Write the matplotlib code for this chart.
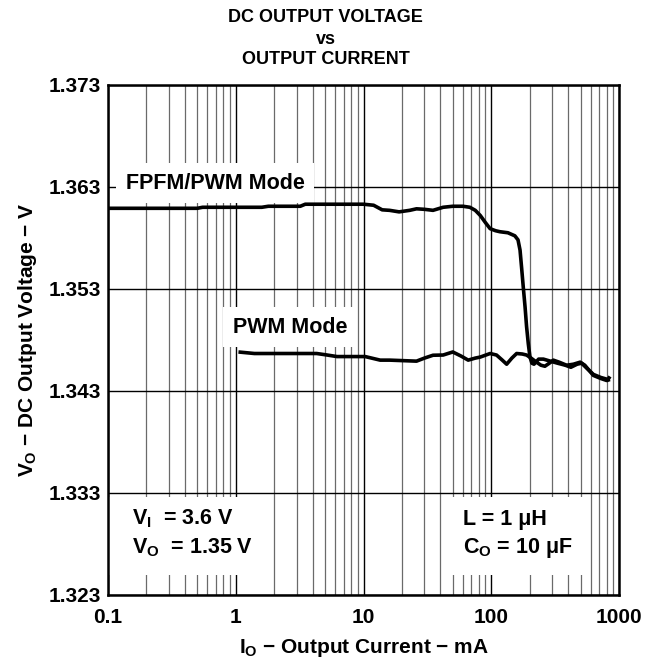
import matplotlib
matplotlib.use("Agg")
import matplotlib.pyplot as plt
from matplotlib.ticker import FixedLocator, NullFormatter, LogLocator
from matplotlib.patches import Rectangle

plt.rcParams['font.family'] = ['Liberation Sans', 'DejaVu Sans']
plt.rcParams['font.weight'] = 'bold'
plt.rcParams['mathtext.fontset'] = 'custom'
plt.rcParams['mathtext.rm'] = 'Liberation Sans:bold'
plt.rcParams['mathtext.it'] = 'Liberation Sans:bold'
plt.rcParams['mathtext.bf'] = 'Liberation Sans:bold'

# ---- data (mA, V) ----
fpfm_current = [0.1, 0.3, 0.5, 0.55, 1.6, 1.8, 3.2, 3.5, 10, 12, 14, 16, 19, 23, 26,
                30, 35, 42, 50, 60, 68, 75, 82, 90, 98, 108, 117, 135, 153, 162,
                168, 173, 178, 184, 189, 195, 201, 208, 216, 235, 256, 290, 330,
                380, 420, 470, 510, 560, 630, 720, 820, 850]
fpfm_voltage = [1.3609, 1.3609, 1.3609, 1.3610, 1.3610, 1.3611, 1.3611, 1.3613, 1.3613,
                1.3612, 1.36075, 1.3607, 1.36055, 1.3607, 1.36085, 1.3608, 1.3607,
                1.3610, 1.3611, 1.3611, 1.3610, 1.3607, 1.3602, 1.3595, 1.3589,
                1.3587, 1.3586, 1.3585, 1.3582, 1.3578, 1.3568, 1.3550, 1.3532,
                1.3512, 1.3493, 1.3476, 1.3463, 1.3457, 1.3456, 1.3461, 1.3461,
                1.3459, 1.3457, 1.3455, 1.3453, 1.3456, 1.3457, 1.3452, 1.3446,
                1.3443, 1.3441, 1.3444]

pwm_current = [1.05, 1.4, 4.3, 5.2, 6.2, 10.3, 13.5, 16, 26, 30, 35, 42, 50, 58, 66,
               75, 82, 98, 110, 122, 132, 145, 158, 175, 189, 205, 226, 245, 263,
               285, 306, 340, 389, 440, 496, 540, 630, 720, 802, 850]
pwm_voltage = [1.3468, 1.34665, 1.34665, 1.3465, 1.34635, 1.34635, 1.3460, 1.3460,
               1.3459, 1.3462, 1.34648, 1.3465, 1.3468, 1.3464, 1.3460, 1.3462,
               1.3463, 1.34665, 1.3465, 1.3460, 1.3456, 1.3462, 1.34665, 1.3466,
               1.3465, 1.3462, 1.3458, 1.3455, 1.3454, 1.3457, 1.3460, 1.3458,
               1.3455, 1.3456, 1.3458, 1.3455, 1.3445, 1.3442, 1.3440, 1.3441]

x_ticks = [0.1, 1, 10, 100, 1000]
x_tick_labels = ['0.1', '1', '10', '100', '1000']
y_ticks = [1.323, 1.333, 1.343, 1.353, 1.363, 1.373]
y_tick_labels = ['1.323', '1.333', '1.343', '1.353', '1.363', '1.373']

fig = plt.figure(figsize=(6.51, 6.66), dpi=100)
ax = fig.add_axes([108/651, 1-594.5/666, 511/651, 509.5/666])
ax.set_xscale('log')
ax.set_xlim(0.1, 1000)
ax.set_ylim(1.323, 1.373)

ax.xaxis.set_major_locator(FixedLocator(x_ticks))
ax.set_xticklabels(x_tick_labels)
ax.xaxis.set_minor_locator(LogLocator(base=10, subs=[2, 3, 4, 5, 6, 7, 8, 9]))
ax.xaxis.set_minor_formatter(NullFormatter())
ax.set_yticks(y_ticks)
ax.set_yticklabels(y_tick_labels)
ax.tick_params(which='both', length=0, labelsize=15)
ax.tick_params(axis='x', pad=10)
ax.tick_params(axis='y', pad=5)

ax.grid(True, which='major', color='black', lw=1.0, zorder=1)
ax.grid(True, which='minor', axis='x', color='#6a6a6a', lw=0.9, zorder=1)
ax.set_axisbelow(True)
for s in ax.spines.values():
    s.set_linewidth(1.8)
    s.set_zorder(6)

ax.plot(fpfm_current, fpfm_voltage, color='black', lw=2.6, zorder=4,
        solid_joinstyle='round', solid_capstyle='butt')
ax.plot(pwm_current, pwm_voltage, color='black', lw=2.6, zorder=4,
        solid_joinstyle='round', solid_capstyle='butt')

wbox = dict(boxstyle='square,pad=0.45', fc='white', ec='none')
ax.text(0.138, 1.36337, 'FPFM/PWM Mode', fontsize=15.5, fontweight='bold',
        ha='left', va='center', bbox=wbox, zorder=3)
ax.text(0.95, 1.34923, 'PWM Mode', fontsize=15.5, fontweight='bold',
        ha='left', va='center', bbox=wbox, zorder=3)

# white backgrounds for the parameter boxes
ax.add_patch(Rectangle((0.0, 0.038), 0.288, 0.153, transform=ax.transAxes,
                       fc='white', ec='none', zorder=2))
ax.add_patch(Rectangle((0.663, 0.038), 0.274, 0.153, transform=ax.transAxes,
                       fc='white', ec='none', zorder=2))

ax.text(0.154, 1.33047, r'$V_I$  = 3.6 V', fontsize=15.5, fontweight='bold',
        ha='left', va='center', zorder=3)
ax.text(0.154, 1.32755, r'$V_O$  = 1.35 V', fontsize=15.5, fontweight='bold',
        ha='left', va='center', zorder=3)
ax.text(60, 1.3304, 'L = 1 μH', fontsize=15.5, fontweight='bold',
        ha='left', va='center', zorder=3)
ax.text(60, 1.32755, r'$C_O$ = 10 μF', fontsize=15.5, fontweight='bold',
        ha='left', va='center', zorder=3)

ax.set_xlabel(r'$I_O$ − Output Current − mA', fontsize=15, fontweight='bold')
ax.set_ylabel(r'$V_O$ − DC Output Voltage − V', fontsize=15, fontweight='bold')
ax.xaxis.set_label_coords(0.5, -0.083)
ax.yaxis.label.set_va('center')
ax.yaxis.set_label_coords(-0.158, 0.5)

fig.text(0.5, 1-18/666, 'DC OUTPUT VOLTAGE', fontsize=13, fontweight='bold',
         ha='center', va='center')
fig.text(0.5, 1-40/666, 'vs', fontsize=13, fontweight='bold',
         ha='center', va='center')
fig.text(0.5, 1-60/666, 'OUTPUT CURRENT', fontsize=13, fontweight='bold',
         ha='center', va='center')

fig.savefig('out.png', dpi=100)
